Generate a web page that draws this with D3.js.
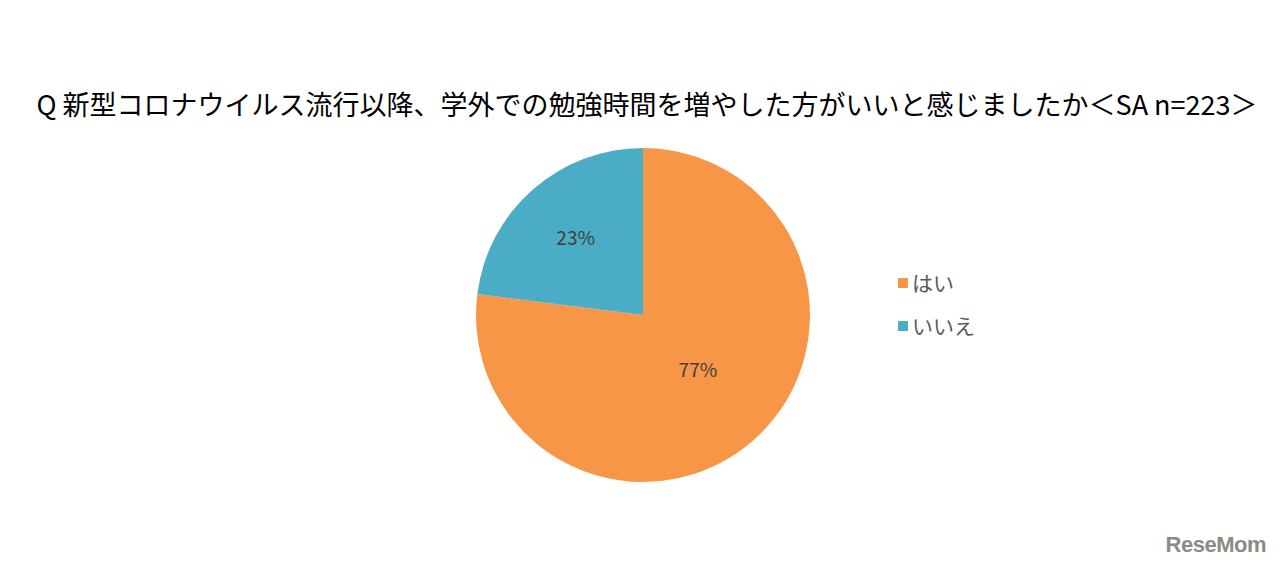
<!DOCTYPE html>
<html><head><meta charset="utf-8">
<script src="https://cdn.jsdelivr.net/npm/d3@7"></script>
<style>html,body{margin:0;padding:0;background:#fff;}svg{display:block;}</style>
</head><body>
<svg id="chart" width="1280" height="565"></svg>
<script>
const title = "Q 新型コロナウイルス流行以降、学外での勉強時間を増やした方がいいと感じましたか＜SA n=223＞";
const categories = ["はい", "いいえ"];
const values = [77, 23];
const labels = ["77%", "23%"];
const colors = ["#F79646", "#4BACC6"];

const svg = d3.select("#chart");
const W = 1280, H = 565;
const cx = 643, cy = 315, R = 167;
const font = "'Noto Sans CJK JP', 'Noto Sans', sans-serif";

svg.append("rect").attr("width", W).attr("height", H).attr("fill", "#fff");

svg.append("text")
  .attr("x", 647).attr("y", 115)
  .attr("text-anchor", "middle")
  .attr("font-family", font).attr("font-size", 27)
  .attr("fill", "#000")
  .text(title);

const data = categories.map((c, i) => ({c, v: values[i], label: labels[i], color: colors[i]}));
const pie = d3.pie().value(d => d.v).sort(null);
const arcs = pie(data);
const arc = d3.arc().innerRadius(0).outerRadius(R);

const g = svg.append("g").attr("transform", `translate(${cx},${cy})`);
g.selectAll("path").data(arcs).join("path")
  .attr("d", arc).attr("fill", d => d.data.color);

// label placement (Excel best-fit like): small slice at its centroid,
// large slice label pulled toward the lower-right quadrant
const labelArc = d3.arc().innerRadius(0).outerRadius(R * 1.22);
const bigArc = d3.arc().innerRadius(0).outerRadius(R * 0.93);
g.selectAll("text.lbl").data(arcs).join("text").attr("class", "lbl")
  .attr("transform", d => {
    let x, y;
    if (d.data.v > 50) {
      const a = Math.PI * 0.75; // lower-right diagonal
      [x, y] = bigArc.centroid({startAngle: a - 0.01, endAngle: a + 0.01});
    } else {
      [x, y] = labelArc.centroid(d);
    }
    return `translate(${x},${y})`;
  })
  .attr("text-anchor", "middle").attr("dy", "0.35em")
  .attr("font-family", font).attr("font-size", 19)
  .attr("fill", "#404040")
  .text(d => d.data.label);

const leg = svg.append("g").attr("transform", "translate(898,283)");
const li = leg.selectAll("g").data(data).join("g")
  .attr("transform", (d, i) => `translate(0,${i * 43})`);
li.append("rect").attr("x", 0).attr("y", -5).attr("width", 10).attr("height", 10)
  .attr("fill", d => d.color);
li.append("text").attr("x", 14).attr("y", 0).attr("dy", "0.36em")
  .attr("font-family", font).attr("font-size", 21).attr("fill", "#595959")
  .text(d => d.c);

svg.append("text").attr("x", 1266).attr("y", 552).attr("text-anchor", "end")
  .attr("font-family", "'Liberation Sans', Arial, sans-serif").attr("font-weight", "bold")
  .attr("font-size", 22).attr("fill", "#8a8a8a").attr("letter-spacing", -0.5)
  .text("ReseMom");
</script>
</body></html>
